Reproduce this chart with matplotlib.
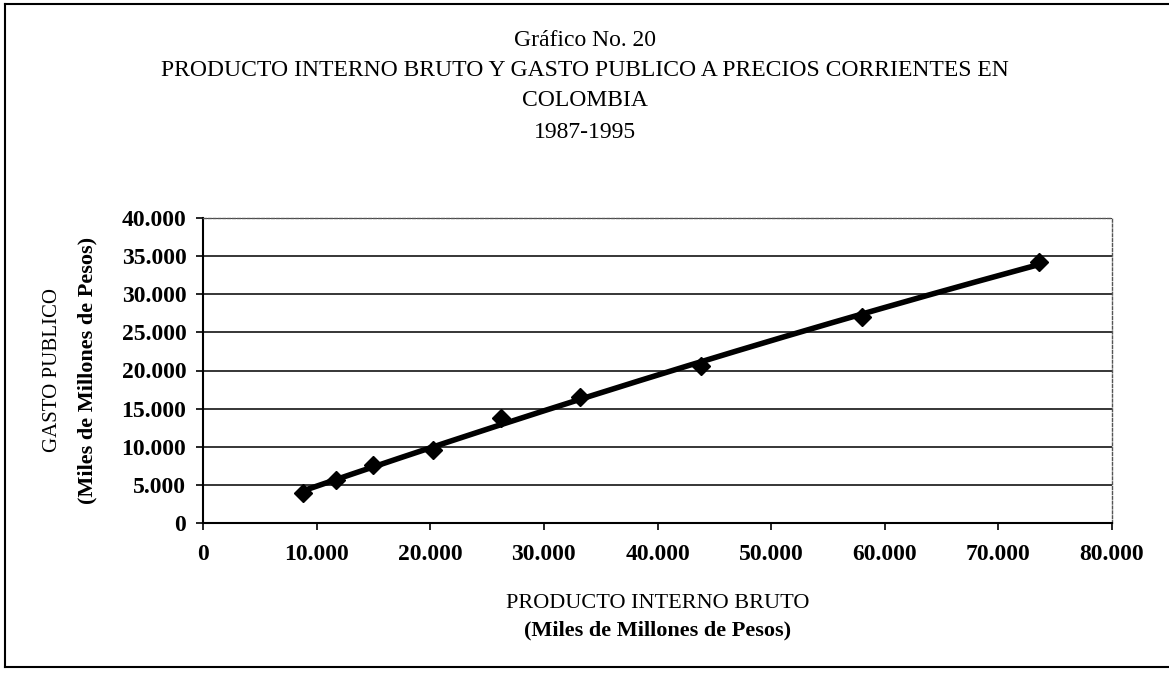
import numpy as np
import matplotlib
matplotlib.use("Agg")
import matplotlib.pyplot as plt
from matplotlib.ticker import FuncFormatter, MultipleLocator
from matplotlib.lines import Line2D

# Data (miles de millones de pesos), 1987-1995
pib = [8800, 11700, 15000, 20200, 26200, 33200, 43800, 58000, 73600]
gasto = [3900, 5600, 7600, 9600, 13800, 16500, 20600, 27000, 34200]

title_lines = ["Gráfico No. 20",
               "PRODUCTO INTERNO BRUTO Y GASTO PUBLICO A PRECIOS CORRIENTES EN",
               "COLOMBIA",
               "1987-1995"]
xlabel_lines = ["PRODUCTO INTERNO BRUTO", "(Miles de Millones de Pesos)"]
ylabel_lines = ["GASTO PUBLICO", "(Miles de Millones de Pesos)"]

plt.rcParams['font.family'] = ['Liberation Serif', 'DejaVu Serif']

W, H = 1169, 677
fig = plt.figure(figsize=(W / 100, H / 100), dpi=100)
left, right, top, bottom = 203, 1112, 218, 523
ax = fig.add_axes([left / W, 1 - bottom / H, (right - left) / W, (bottom - top) / H])

ax.set_xlim(0, 80000)
ax.set_ylim(0, 40000)
ax.xaxis.set_major_locator(MultipleLocator(10000))
ax.yaxis.set_major_locator(MultipleLocator(5000))
fmt = FuncFormatter(lambda v, p: f"{int(round(v)):,}".replace(",", "."))
ax.xaxis.set_major_formatter(fmt)
ax.yaxis.set_major_formatter(fmt)
ax.tick_params(axis='both', direction='out', length=5, width=1.2, colors='black',
               labelsize=17)
ax.tick_params(axis='y', pad=7)
ax.tick_params(axis='x', pad=10)
for lab in ax.get_xticklabels() + ax.get_yticklabels():
    lab.set_fontweight('bold')

ax.yaxis.grid(True, color='black', linewidth=1.1)
ax.set_axisbelow(True)
for s in ['left', 'bottom']:
    ax.spines[s].set_linewidth(1.5)
    ax.spines[s].set_color('black')
for s in ['top', 'right']:
    ax.spines[s].set_linestyle((0, (2, 1.5)))
    ax.spines[s].set_linewidth(1.0)
    ax.spines[s].set_color('#555555')

# trend line (2nd order polynomial fitted to the data)
coef = np.polyfit(pib, gasto, 2)
xs = np.linspace(min(pib), max(pib), 200)
ax.plot(xs, np.polyval(coef, xs), color='black', linewidth=4.0, solid_capstyle='round', zorder=3)
ax.plot(pib, gasto, linestyle='none', marker='D', markersize=9, color='black', zorder=4)

# titles
ty = [40, 70, 101, 132]
for t, y in zip(title_lines, ty):
    fig.text(0.5, 1 - y / H, t, ha='center', va='center', fontsize=17)

cx = (left + right) / 2 / W
fig.text(cx, 1 - 603 / H, xlabel_lines[0], ha='center', va='center', fontsize=16)
fig.text(cx, 1 - 630 / H, xlabel_lines[1], ha='center', va='center', fontsize=16, fontweight='bold')

cy = 1 - (top + bottom) / 2 / H
fig.text(53 / W, cy, ylabel_lines[0], ha='center', va='center', rotation=90, fontsize=15)
fig.text(87 / W, cy, ylabel_lines[1], ha='center', va='center', rotation=90, fontsize=16,
         fontweight='bold')

# page border (left, top, bottom)
bx0, by0, by1 = 5 / W, 1 - 667 / H, 1 - 4 / H
for xd, yd in [([bx0, bx0], [by0, by1]), ([bx0, 1.0], [by1, by1]), ([bx0, 1.0], [by0, by0])]:
    fig.add_artist(Line2D(xd, yd, color='black', linewidth=1.5, transform=fig.transFigure))

fig.savefig("out.png", dpi=100)
